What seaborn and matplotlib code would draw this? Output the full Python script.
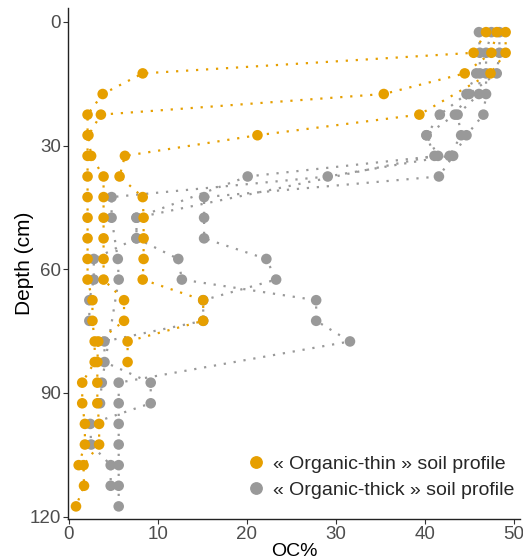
import numpy as np
import pandas as pd
import matplotlib
matplotlib.use("Agg")
import matplotlib.pyplot as plt
from matplotlib.lines import Line2D
import seaborn as sns

nan = np.nan
depth = [2.5, 7.5, 12.5, 17.5, 22.5, 27.5, 32.5, 37.5, 42.5, 47.5, 52.5, 57.5,
         62.5, 67.5, 72.5, 77.5, 82.5, 87.5, 92.5, 97.5, 102.5, 107.5, 112.5, 117.5]

# Organic-thin profiles (OC %)
thin_1 = [46.9, 45.5, 8.3, 3.8, 2.1, 2.1, 2.1, 2.1, 2.1, 2.1, 2.1, 2.1,
          2.1, 2.65, 2.65, 2.9, 2.9, 1.5, 1.5, 1.8, 1.8, 1.1, nan, nan]
thin_2 = [48.1, 47.5, 44.5, 35.4, 3.6, 2.2, 2.5, 3.9, 3.9, 3.9, 3.9, 3.9,
          3.9, 6.2, 6.2, 3.3, 3.2, 3.2, 3.2, 3.4, 3.4, 1.65, 1.7, 0.8]
thin_3 = [49.1, 49.1, 47.4, nan, 39.4, 21.2, 6.3, 5.7, 8.3, 8.4, 8.4, 8.4,
          8.3, 15.1, 15.1, 6.6, 6.6, nan, nan, nan, nan, nan, nan, nan]

# Organic-thick profiles (OC %)
thick_1 = [47.5, 46.9, 46.9, 46.9, 46.6, 44.7, 43.2, 41.6, 15.2, 15.2, 15.2, 22.2,
           23.3, 15.1, 15.1, 4.0, 4.0, 9.2, 9.2, 2.4, 2.5, 4.7, 4.7, nan]
thick_2 = [46.1, 46.2, 46.2, 46.1, 43.7, 44.1, 42.8, 29.1, 4.8, 4.8, nan, 5.5,
           5.6, nan, nan, nan, nan, 3.7, 3.5, nan, nan, nan, nan, nan]
thick_3 = [48.4, 48.4, 48.1, 45.0, 43.4, 40.2, 41.5, 20.1, nan, 7.6, 7.6, 12.3,
           12.7, 27.8, 27.8, 31.6, nan, 5.6, 5.6, 5.6, 5.6, 5.6, 5.6, 5.6]
thick_4 = [nan, nan, 45.8, 44.7, 41.7, 40.2, 41.1, nan, nan, 7.6, 7.6, 2.8,
           2.8, 2.3, 2.3, nan, nan, nan, nan, nan, nan, nan, nan, nan]

labels = ["\u00ab Organic-thin \u00bb soil profile", "\u00ab Organic-thick \u00bb soil profile"]
colors = ["#E69F00", "#999999"]

rows = []
for name, vals, kind in [("thin_1", thin_1, 0), ("thin_2", thin_2, 0), ("thin_3", thin_3, 0),
                         ("thick_1", thick_1, 1), ("thick_2", thick_2, 1),
                         ("thick_3", thick_3, 1), ("thick_4", thick_4, 1)]:
    for d, v in zip(depth, vals):
        rows.append({"profile": name, "type": labels[kind], "depth": d, "oc": v})
df = pd.DataFrame(rows).dropna()

sns.set_theme(style="white")
plt.rcParams["font.family"] = ["Liberation Sans", "DejaVu Sans"]

fig = plt.figure(figsize=(5.23, 5.59), dpi=100)
ax = fig.add_axes([0.130, 0.072, 0.864, 0.914])

pal = dict(zip(labels, colors))
order = [labels[1], labels[0]]
for lab in order:
    sub = df[df["type"] == lab]
    sns.lineplot(data=sub, x="oc", y="depth", units="profile", estimator=None,
                 sort=False, orient="y", color=pal[lab], lw=1.6,
                 linestyle=(0, (1, 3.5)), ax=ax, legend=False)
for lab in order:
    sub = df[df["type"] == lab]
    sns.scatterplot(data=sub, x="oc", y="depth", color=pal[lab], s=58,
                    edgecolor="none", linewidth=0, ax=ax, legend=False, zorder=3)

ax.set_xlim(-0.1, 50.7)
ax.set_ylim(120.5, -3.4)
ax.set_yticks([0, 30, 60, 90, 120])
ax.set_xticks([0, 10, 20, 30, 40, 50])
ax.tick_params(axis="both", colors="#333333", labelcolor="#4D4D4D", labelsize=13.5,
               length=3.5, width=0.8, left=True, bottom=True, pad=1.5)
for s in ["top", "right"]:
    ax.spines[s].set_visible(False)
for s in ["left", "bottom"]:
    ax.spines[s].set_color("#222222")
    ax.spines[s].set_linewidth(1.0)
ax.set_xlabel("OC%", fontsize=14, color="black", labelpad=0)
ax.set_ylabel("Depth (cm)", fontsize=15, color="black", labelpad=-3)

handles = [Line2D([], [], marker="o", ls="none", color=c, markersize=8.2) for c in colors]
ax.legend(handles, labels, loc="upper left",
          bbox_to_anchor=(246.0 / 523, 1 - 455.0 / 559), bbox_transform=fig.transFigure,
          frameon=False, fontsize=14, handlelength=1.0, handletextpad=0.4,
          labelspacing=0.45, borderpad=0, borderaxespad=0)

fig.savefig("out.png", dpi=100)
